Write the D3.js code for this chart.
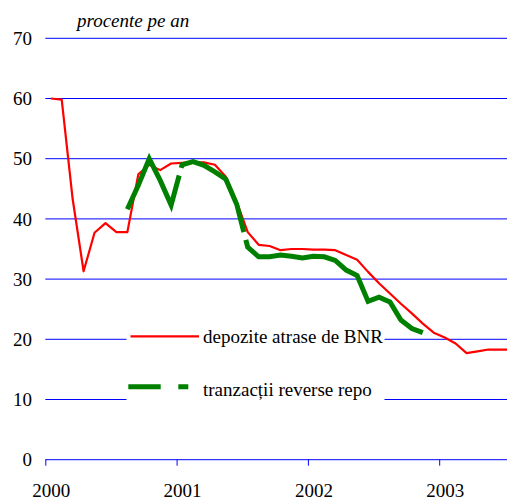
<!DOCTYPE html>
<html>
<head>
<meta charset="utf-8">
<script src="https://cdn.jsdelivr.net/npm/d3@7"></script>
<style>
  body { margin: 0; background: #fff; }
  text { font-family: "Liberation Serif", "Times New Roman", serif; font-size: 19px; fill: #000; }
</style>
</head>
<body>
<div id="chart-area"></div>
<script>
/*
*   dobanzi.js
*   BNR deposit rate vs reverse repo, monthly, 2000-2003
*/

// months counted from Jan 2000
var depoziteStart = 0;
var depozite = [60.0, 59.8, 43.3, 31.3, 37.7, 39.3, 37.8, 37.8, 47.4, 49.0,
                48.1, 49.2, 49.3, 49.4, 49.4, 49.0, 47.0, 42.8, 37.8, 35.7,
                35.5, 34.8, 35.0, 35.0, 34.9, 34.9, 34.8, 34.0, 33.2, 31.2,
                29.3, 27.6, 25.9, 24.3, 22.6, 21.1, 20.3, 19.3, 17.7, 18.0,
                18.3, 18.3, 18.3];

var repoStart = 7;   // Aug 2000
var repo = [41.6, 45.6, 50.0, 46.4, 42.3, 49.0, 49.5, 48.9, 47.8, 46.6,
            42.4, 35.3, 33.7, 33.7, 34.0, 33.8, 33.5, 33.8, 33.7, 33.1,
            31.5, 30.6, 26.3, 27.0, 26.2, 23.2, 21.8, 21.1];

var yearTicks = [2000, 2001, 2002, 2003];
var yTicks = [0, 10, 20, 30, 40, 50, 60, 70];
var legendLabels = ["depozite atrase de BNR", "tranzacții reverse repo"];
var unitLabel = "procente pe an";

var width = 507, height = 500;

var svg = d3.select("#chart-area")
    .append("svg")
    .attr("width", width)
    .attr("height", height)
    .attr("font-family", "Liberation Serif, Times New Roman, serif");

// one year = 131.3px
var x = d3.scaleLinear()
    .domain([2000, 2004])
    .range([45.3, 45.3 + 4 * 131.3]);

var y = d3.scaleLinear()
    .domain([0, 70])
    .range([459.7, 38.3]);

// points sit in the middle of their month
var toDate = function(start){
    return function(v, i){ return { t: 2000 + (start + i + 0.5) / 12, v: v }; };
};
var depData = depozite.map(toDate(depoziteStart));
var repoData = repo.map(toDate(repoStart));

// gridlines
svg.append("g")
    .selectAll("line")
    .data(yTicks.filter(function(d){ return d > 0; }))
    .enter().append("line")
    .attr("x1", x(2000))
    .attr("x2", width)
    .attr("y1", function(d){ return y(d); })
    .attr("y2", function(d){ return y(d); })
    .attr("stroke", "#0000ff")
    .attr("stroke-width", 1);

// y labels
svg.append("g")
    .selectAll("text")
    .data(yTicks)
    .enter().append("text")
    .attr("x", 32)
    .attr("y", function(d){ return y(d); })
    .attr("dy", "0.35em")
    .attr("text-anchor", "end")
    .text(function(d){ return d; });

// x axis
var xAxisCall = d3.axisBottom(x)
    .tickValues(yearTicks)
    .tickSize(6)
    .tickSizeOuter(0)
    .tickFormat(d3.format("d"));

var xAxis = svg.append("g")
    .attr("class", "x axis")
    .attr("transform", "translate(0," + y(0) + ")")
    .call(xAxisCall);

xAxis.select(".domain").attr("stroke", "#0000ff").attr("d", "M" + x(2000) + ",0H" + width);
xAxis.selectAll(".tick line").attr("stroke", "#0000ff");
xAxis.selectAll(".tick text")
    .attr("x", 5.5)
    .attr("y", 0)
    .attr("dy", 37);
xAxis.attr("font-family", null).attr("font-size", null);

// unit label
svg.append("text")
    .attr("x", 77)
    .attr("y", 26.5)
    .attr("font-style", "italic")
    .text(unitLabel);

// legend box (covers gridlines)
svg.append("rect")
    .attr("x", 126.5)
    .attr("y", 312)
    .attr("width", 258)
    .attr("height", 106)
    .attr("fill", "#fff");

var line = d3.line()
    .x(function(d){ return x(d.t); })
    .y(function(d){ return y(d.v); });

svg.append("path")
    .datum(depData)
    .attr("fill", "none")
    .attr("stroke", "#ff0000")
    .attr("stroke-width", 2.2)
    .attr("stroke-linejoin", "round")
    .attr("d", line);

svg.append("path")
    .datum(repoData)
    .attr("fill", "none")
    .attr("stroke", "#008000")
    .attr("stroke-width", 5)
    .attr("stroke-dasharray", "137,8,108,8,2000")
    .attr("d", line);

// legend
svg.append("line")
    .attr("x1", 130.5).attr("x2", 199)
    .attr("y1", 336.3).attr("y2", 336.3)
    .attr("stroke", "#ff0000")
    .attr("stroke-width", 2.2);

svg.append("line")
    .attr("x1", 128.3).attr("x2", 188.3)
    .attr("y1", 386.7).attr("y2", 386.7)
    .attr("stroke", "#008000")
    .attr("stroke-width", 5)
    .attr("stroke-dasharray", "32.4,17.6");

svg.selectAll(".legendText")
    .data(legendLabels)
    .enter().append("text")
    .attr("class", "legendText")
    .attr("x", 203)
    .attr("y", function(d, i){ return 343 + i * 52.5; })
    .text(function(d){ return d; });

</script>
</body>
</html>
